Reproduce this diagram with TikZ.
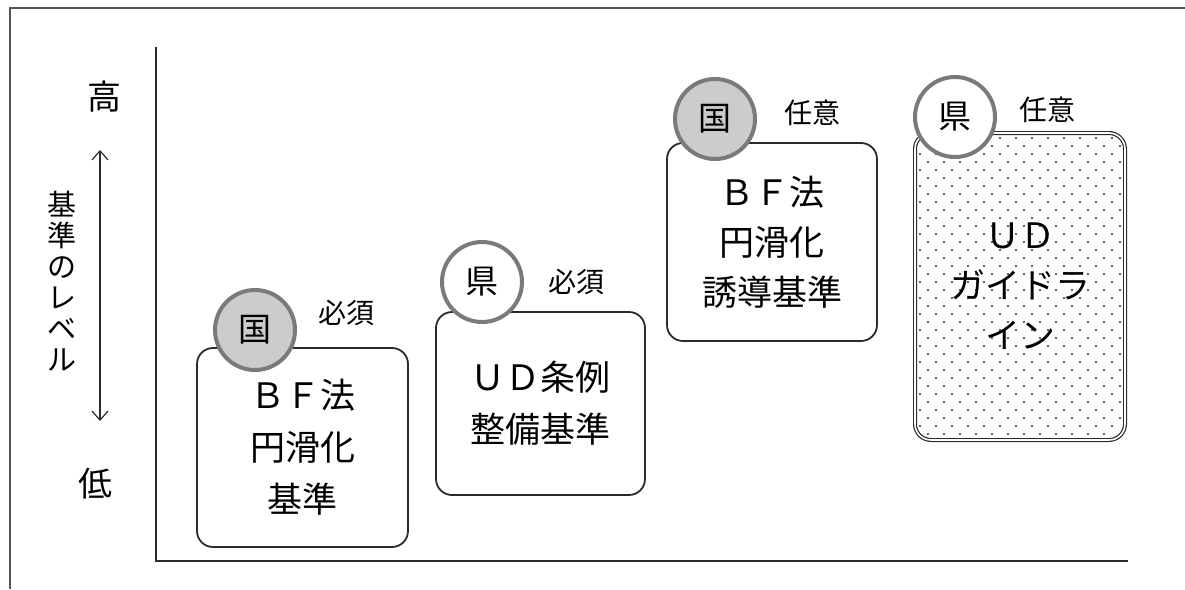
\documentclass[tikz,border=0pt]{standalone}
\usepackage{fontspec}
\setmainfont{Noto Sans CJK JP}
\usetikzlibrary{arrows.meta}
\definecolor{ink}{HTML}{2B2B2B}
\definecolor{ringgray}{HTML}{7A7A7A}
\definecolor{kunifill}{HTML}{CCCCCC}
\tikzset{
  box/.style={draw=ink, line width=1.8pt, rounded corners=16pt, align=center,
    font=\fontsize{35}{52}\selectfont, inner sep=0pt},
  kuni/.style={circle, draw=ringgray, line width=4pt, fill=kunifill, minimum size=80pt,
    inner sep=0pt, font=\fontsize{33}{33}\selectfont},
  ken/.style={circle, draw=ringgray, line width=4pt, fill=white, minimum size=80pt,
    inner sep=0pt, font=\fontsize{33}{33}\selectfont},
  tag/.style={font=\fontsize{28}{28}\selectfont, inner sep=0pt},
  axislbl/.style={font=\fontsize{34}{34}\selectfont, inner sep=0pt},
  axis/.style={draw=ink, line width=1.8pt},
  frameline/.style={draw=ink!80, line width=1.4pt},
}
\begin{document}
\begin{tikzpicture}[x=1pt,y=-1pt]
\useasboundingbox (0,0) rectangle (1185,589);

% outer frame
\coordinate (fbl) at (10,589);
\coordinate (ftl) at (10,8);
\coordinate (ftr) at (1185,8);
\draw[frameline] (fbl) -- (ftl) -- (ftr);

% axes
\coordinate (ytop) at (156,47);
\coordinate (orig) at (156,561);
\coordinate (xend) at (1128,561);
\draw[axis] (ytop) -- (orig) -- (xend);

% left labels
\node[axislbl] (high) at (104,97) {高};
\node[axislbl] (low) at (95,484) {低};
\coordinate (arrtop) at (100,150);
\coordinate (arrbot) at (100,421);
\draw[ink, line width=1.3pt, {Straight Barb[length=9pt,width=16pt,line width=1.2pt]}-{Straight Barb[length=9pt,width=16pt,line width=1.2pt]}] (arrtop) -- (arrbot);
\node[align=center, font=\fontsize{29}{31}\selectfont, inner sep=0pt] (level) at (62,281) {基\\準\\の\\レ\\ベ\\ル};

% box 1
\node[box, minimum width=211pt, minimum height=199pt] (b1) at (302.5,447.5) {ＢＦ法\\円滑化\\基準};
\node[kuni] (c1) at (255,330) {国};
\node[tag] (t1) at (346,313) {必須};

% box 2
\node[box, minimum width=209pt, minimum height=183pt] (b2) at (540.5,403.5) {ＵＤ条例\\整備基準};
\node[ken] (c2) at (482,282) {県};
\node[tag] (t2) at (576,282) {必須};

% box 3
\node[box, minimum width=210pt, minimum height=198pt, font=\fontsize{35}{50}\selectfont] (b3) at (772,242) {ＢＦ法\\円滑化\\誘導基準};
\node[kuni] (c3) at (715,119) {国};
\node[tag] (t3) at (812,113) {任意};

% box 4 (dotted)
\begin{scope}
  \clip[rounded corners=15pt] (916,134) rectangle (1124,439);
  \foreach \j in {0,...,39} {
    \pgfmathsetmacro{\yy}{138+8*\j}
    \pgfmathsetmacro{\off}{mod(\j,2)*8}
    \foreach \i in {0,...,13} {
      \fill[ink] (920+\off+16*\i,\yy) circle (1.2pt);
    }
  }
\end{scope}
\node[box, minimum width=210pt, minimum height=307pt, double=white, double distance=1.6pt, line width=1.2pt, font=\fontsize{35}{50}\selectfont] (b4) at (1020,286.5) {ＵＤ\\ガイドラ\\イン};
\node[ken] (c4) at (955,117) {県};
\node[tag] (t4) at (1047,110) {任意};
\end{tikzpicture}
\end{document}
